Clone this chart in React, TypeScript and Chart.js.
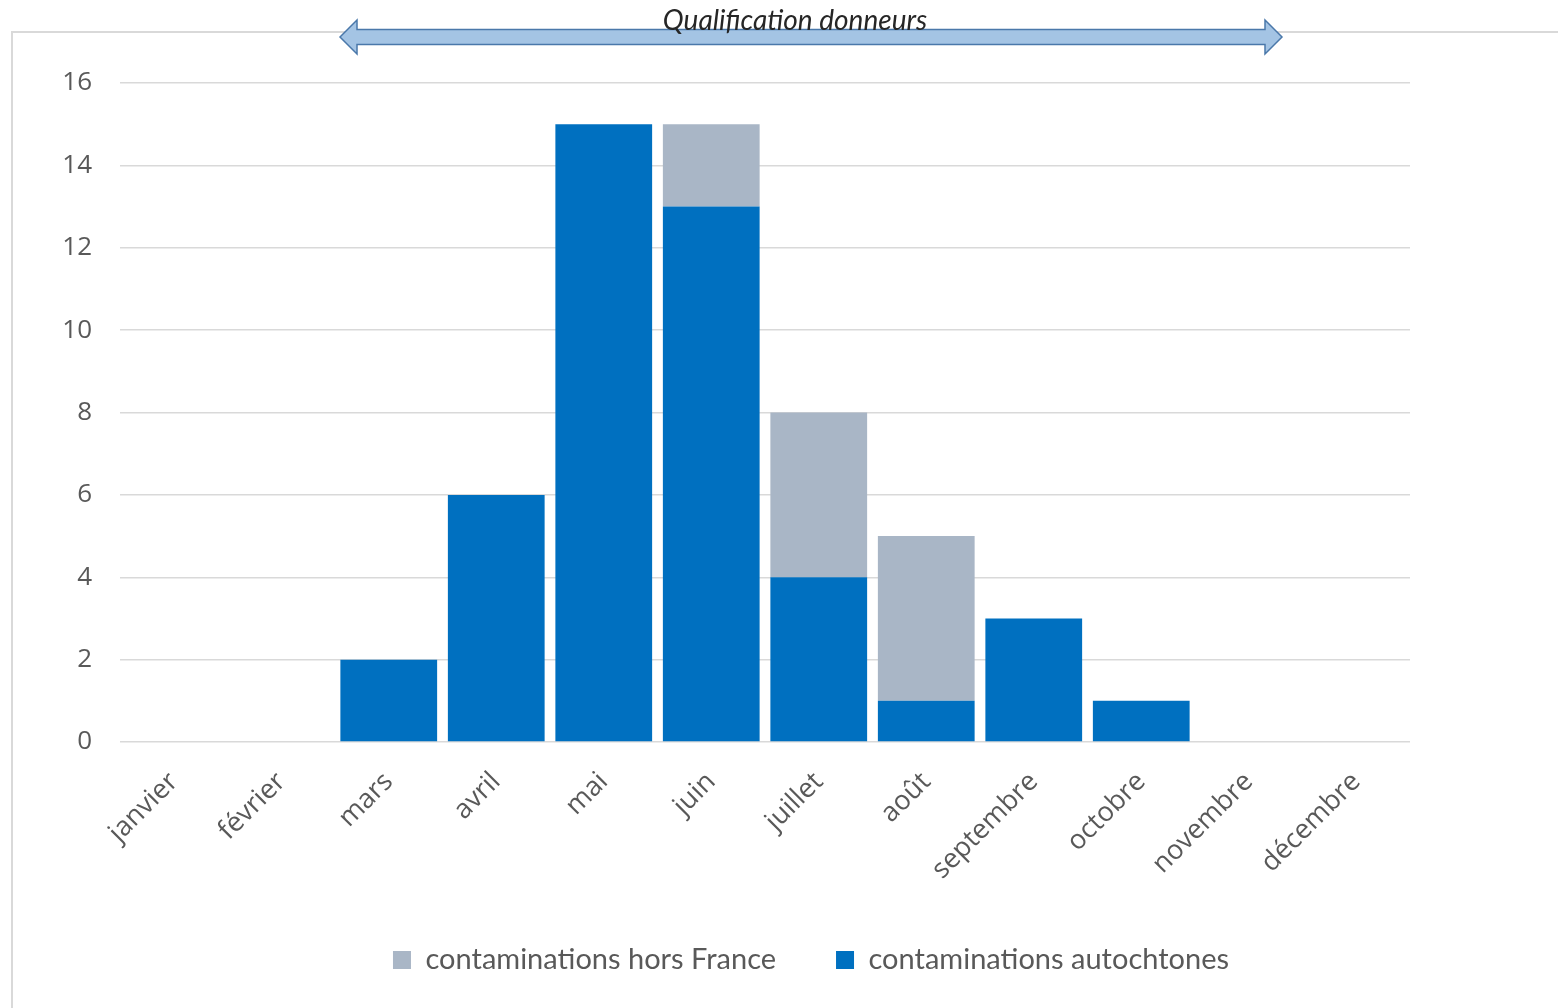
import { useEffect, useRef } from "react";
import { Chart, registerables } from "chart.js";

Chart.register(...registerables);

const months = [
  "janvier", "février", "mars", "avril", "mai", "juin",
  "juillet", "août", "septembre", "octobre", "novembre", "décembre",
];
const autochtones = [0, 0, 2, 6, 15, 13, 4, 1, 3, 1, 0, 0];
const horsFrance = [0, 0, 0, 0, 0, 2, 4, 4, 0, 0, 0, 0];
const seriesNames = ["contaminations autochtones", "contaminations hors France"];
const yMax = 16;
const yStep = 2;
const arrowLabel = "Qualification donneurs";

const BLUE = "#0070C0";
const GREY = "#A9B6C6";
const TEXT = "#595959";

const framePlugin = {
  id: "frame",
  beforeDraw(chart: any) {
    const ctx = chart.ctx;
    ctx.save();
    ctx.fillStyle = "#ffffff";
    ctx.fillRect(0, 0, chart.width, chart.height);
    ctx.strokeStyle = "#d9d9d9";
    ctx.lineWidth = 2;
    ctx.beginPath();
    ctx.moveTo(12, chart.height);
    ctx.lineTo(12, 32);
    ctx.lineTo(chart.width, 32);
    ctx.stroke();
    ctx.restore();
  },
  afterDraw(chart: any) {
    const ctx = chart.ctx;
    const x0 = 340, x1 = 1282, yc = 37;
    const head = 17, shaft = 7.5, headH = 17;
    ctx.save();
    ctx.beginPath();
    ctx.moveTo(x0, yc);
    ctx.lineTo(x0 + head, yc - headH);
    ctx.lineTo(x0 + head, yc - shaft);
    ctx.lineTo(x1 - head, yc - shaft);
    ctx.lineTo(x1 - head, yc - headH);
    ctx.lineTo(x1, yc);
    ctx.lineTo(x1 - head, yc + headH);
    ctx.lineTo(x1 - head, yc + shaft);
    ctx.lineTo(x0 + head, yc + shaft);
    ctx.lineTo(x0 + head, yc + headH);
    ctx.closePath();
    ctx.fillStyle = "#A4C4E4";
    ctx.fill();
    ctx.strokeStyle = "#4A78AA";
    ctx.lineWidth = 1.5;
    ctx.stroke();
    ctx.fillStyle = "#262626";
    ctx.font = "italic 28px Lato";
    ctx.textAlign = "center";
    ctx.textBaseline = "middle";
    ctx.fillText(arrowLabel, 795, 21);
    ctx.restore();
  },
};

export default function App() {
  const ref = useRef<HTMLCanvasElement | null>(null);
  useEffect(() => {
    document.body.style.margin = "0";
    const chart = new Chart(ref.current!, {
      type: "bar",
      data: {
        labels: months,
        datasets: [
          { label: seriesNames[0], data: autochtones, backgroundColor: BLUE },
          { label: seriesNames[1], data: horsFrance, backgroundColor: GREY },
        ],
      },
      options: {
        responsive: false,
        animation: false,
        layout: { padding: { top: 83, left: 64, right: 0, bottom: 23.5 } },
        datasets: { bar: { categoryPercentage: 1, barPercentage: 0.9 } },
        scales: {
          x: {
            stacked: true,
            grid: { display: false },
            border: { display: false },
            ticks: {
              minRotation: 45,
              maxRotation: 45,
              color: TEXT,
              font: { family: "Open Sans", size: 27 },
              padding: 16,
            },
            afterFit: (s: any) => { s.height = 143.5; },
          },
          y: {
            stacked: true,
            min: 0,
            max: yMax,
            grid: { color: "#d9d9d9", lineWidth: 1.5, drawTicks: false },
            border: { display: false },
            ticks: {
              stepSize: yStep,
              color: TEXT,
              font: { family: "Open Sans", size: 26 },
              padding: 28,
            },
            afterFit: (s: any) => { s.width = 56; },
          },
          y2: {
            position: "right",
            display: true,
            grid: { display: false },
            border: { display: false },
            ticks: { display: false },
            afterFit: (s: any) => { s.width = 148; },
          },
        },
        plugins: {
          legend: {
            position: "bottom",
            reverse: true,
            labels: {
              boxWidth: 18,
              boxHeight: 18,
              padding: 60,
              color: TEXT,
              font: { family: "Lato", size: 29 },
            },
          },
          tooltip: { enabled: false },
        },
      },
      plugins: [framePlugin],
    } as any);
    return () => chart.destroy();
  }, []);
  return (
    <div style={{ position: "absolute", left: 0, top: 0, width: 1558, height: 1008 }}>
      <canvas ref={ref} width={1558} height={1008} />
    </div>
  );
}
